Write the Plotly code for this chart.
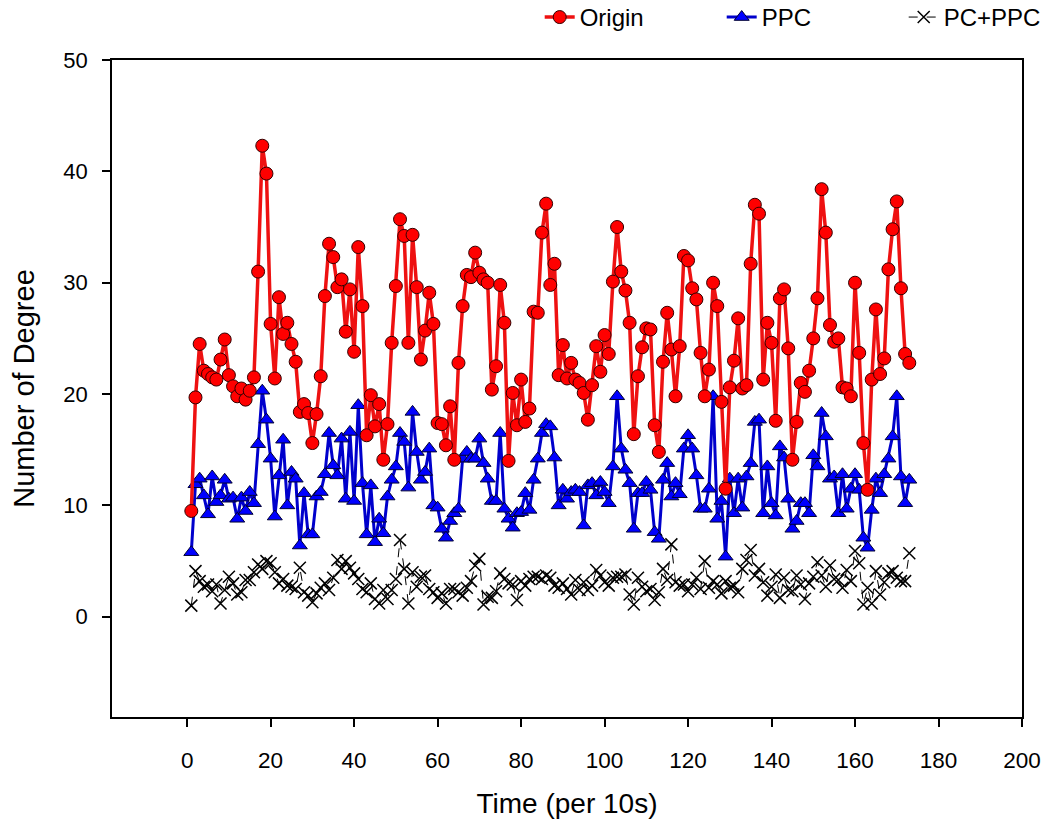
import plotly.graph_objects as go

origin = [
    9.5, 19.7, 24.5, 22.1, 21.8, 21.5, 21.3, 23.1, 24.9, 21.7,
    20.7, 19.8, 20.5, 19.5, 20.3, 21.5, 31.0, 42.3, 39.8, 26.3,
    21.4, 28.7, 25.4, 26.4, 24.5, 22.9, 18.4, 19.1, 18.3, 15.6,
    18.2, 21.6, 28.8, 33.5, 32.3, 29.6, 30.3, 25.6, 29.4, 23.8,
    33.2, 27.9, 16.3, 19.9, 17.1, 19.1, 14.1, 17.3, 24.6, 29.7,
    35.7, 34.2, 24.6, 34.3, 29.6, 23.1, 25.7, 29.1, 26.3, 17.4,
    17.3, 15.4, 18.9, 14.1, 22.8, 27.9, 30.7, 30.5, 32.7, 30.9,
    30.3, 30.0, 20.4, 22.5, 29.8, 26.4, 14.0, 20.1, 17.2, 21.3,
    17.5, 18.7, 27.4, 27.3, 34.5, 37.1, 29.8, 31.7, 21.7, 24.4,
    21.4, 22.8, 21.3, 21.0, 20.1, 17.7, 20.8, 24.3, 22.0, 25.3,
    23.6, 30.1, 35.0, 31.0, 29.3, 26.4, 16.4, 21.6, 24.2, 25.9,
    25.8, 17.2, 14.8, 22.9, 27.3, 24.0, 19.8, 24.3, 32.4, 32.0,
    29.5, 28.5, 23.7, 19.8, 22.2, 30.0, 27.9, 19.3, 11.5, 20.6,
    23.0, 26.8, 20.5, 20.8, 31.7, 37.0, 36.2, 21.3, 26.4, 24.6,
    17.6, 28.6, 29.4, 24.1, 14.1, 17.5, 21.0, 20.2, 22.1, 25.0,
    28.6, 38.4, 34.5, 26.2, 24.7, 25.0, 20.6, 20.5, 19.8, 30.0,
    23.7, 15.6, 11.4, 21.3, 27.6, 21.8, 23.2, 31.2, 34.8, 37.3,
    29.5, 23.6, 22.8,
]

ppc = [
    5.8, 11.9, 12.4, 10.9, 9.2, 12.6, 10.3, 10.9, 12.3, 10.6,
    10.7, 8.8, 10.7, 9.5, 11.2, 10.2, 15.5, 20.3, 17.7, 14.2,
    9.0, 12.7, 15.9, 10.0, 13.0, 12.4, 6.4, 11.1, 7.4, 7.4,
    10.8, 11.2, 12.8, 16.5, 13.6, 12.7, 16.0, 10.6, 16.6, 10.4,
    19.0, 12.0, 7.4, 11.8, 6.7, 8.8, 7.5, 10.8, 12.3, 13.5,
    16.5, 15.7, 11.6, 18.4, 14.8, 12.3, 13.0, 15.1, 10.0, 9.8,
    7.9, 7.1, 8.6, 9.3, 9.7, 14.2, 14.8, 14.2, 14.2, 16.0,
    13.8, 12.4, 10.4, 10.4, 16.5, 9.7, 8.8, 8.0, 9.3, 9.4,
    11.1, 9.6, 12.3, 14.2, 16.5, 17.3, 17.1, 14.3, 10.0, 11.4,
    10.6, 11.2, 11.4, 11.2, 8.2, 11.8, 12.0, 10.9, 12.1, 11.2,
    10.2, 13.5, 19.8, 15.1, 13.2, 12.0, 7.9, 11.1, 11.1, 12.1,
    11.4, 7.6, 7.0, 12.3, 13.8, 10.8, 12.0, 11.0, 15.1, 16.3,
    15.1, 12.7, 9.7, 9.7, 11.5, 19.8, 8.8, 10.4, 5.4, 12.4,
    9.3, 12.4, 9.8, 12.6, 13.8, 17.5, 17.7, 9.3, 13.5, 10.2,
    9.1, 15.3, 14.3, 10.6, 7.9, 8.6, 10.2, 10.2, 9.3, 14.5,
    13.5, 18.3, 16.2, 12.4, 12.6, 9.3, 12.8, 9.7, 11.5, 12.8,
    11.4, 7.1, 6.2, 9.6, 12.4, 11.1, 12.8, 14.2, 16.2, 19.8,
    12.6, 10.2, 12.3,
]

pc_ppc = [
    1.0, 4.1, 3.2, 2.7, 2.9, 2.3, 2.9, 1.2, 2.4, 3.6,
    3.0, 2.0, 2.2, 3.3, 3.3, 4.0, 4.7, 4.3, 5.0, 4.8,
    4.0, 3.0, 3.4, 2.8, 2.7, 2.5, 4.4, 2.2, 1.9, 1.3,
    2.1, 2.6, 3.0, 2.4, 3.5, 5.1, 4.3, 5.0, 4.4, 3.9,
    3.4, 2.5, 2.2, 3.0, 1.6, 1.2, 2.4, 1.6, 2.4, 3.4,
    6.9, 4.3, 1.2, 4.0, 2.7, 3.6, 3.7, 2.5, 2.2, 1.7,
    2.1, 1.2, 2.5, 2.5, 2.2, 1.9, 2.6, 3.2, 4.6, 5.2,
    1.1, 1.8, 1.7, 2.3, 3.9, 3.4, 3.0, 2.9, 1.5, 3.2,
    2.8, 3.4, 3.6, 3.6, 3.4, 3.7, 3.5, 2.8, 2.6, 3.0,
    2.5, 2.0, 3.3, 2.4, 3.1, 2.4, 2.8, 4.2, 3.7, 3.1,
    2.8, 3.5, 3.6, 3.6, 3.8, 2.0, 1.1, 3.5, 2.7, 2.3,
    2.5, 1.5, 2.2, 4.3, 3.3, 6.5, 3.1, 2.8, 2.9, 2.3,
    2.9, 3.5, 2.5, 5.0, 2.6, 3.2, 2.9, 2.1, 3.2, 2.6,
    2.8, 2.2, 4.3, 5.1, 6.0, 3.7, 4.3, 3.1, 1.9, 2.7,
    3.8, 1.7, 3.5, 2.4, 2.3, 3.7, 2.9, 1.6, 3.0, 3.6,
    4.9, 3.7, 2.7, 4.6, 3.4, 3.3, 2.6, 4.2, 3.2, 5.9,
    4.8, 1.1, 2.6, 1.2, 4.1, 2.0, 3.1, 3.9, 4.1, 3.5,
    3.2, 3.2, 5.7,
]

time = list(range(1, len(origin) + 1))

x_ticks = list(range(0, 201, 20))
y_ticks = list(range(0, 51, 10))

FONT = "Liberation Sans, Arial, sans-serif"

fig = go.Figure()

fig.add_trace(go.Scatter(
    x=time, y=pc_ppc, name="PC+PPC", mode="lines+markers",
    line=dict(color="black", width=1, dash="dash"),
    marker=dict(symbol="x-thin", size=12, color="black",
                line=dict(color="black", width=1.5)),
))
fig.add_trace(go.Scatter(
    x=time, y=ppc, name="PPC", mode="lines+markers",
    line=dict(color="#0000CC", width=3),
    marker=dict(symbol="triangle-up", size=13, color="#0000FF",
                line=dict(color="#000033", width=1)),
))
fig.add_trace(go.Scatter(
    x=time, y=origin, name="Origin", mode="lines+markers",
    line=dict(color="#EE1111", width=3.5),
    marker=dict(symbol="circle", size=13, color="#FF0000",
                line=dict(color="#330000", width=1)),
))

fig.update_layout(
    width=1048, height=829,
    paper_bgcolor="white", plot_bgcolor="white",
    margin=dict(l=112, r=26, t=60, b=112, autoexpand=False),
    font=dict(family=FONT, size=22, color="black"),
    showlegend=True,
    legend=dict(orientation="h", x=1.070, xanchor="right", y=1.099, yanchor="top",
                traceorder="reversed", font=dict(size=24), bgcolor="rgba(0,0,0,0)",
                entrywidth=137),
    xaxis=dict(
        range=[-18, 200], tickvals=x_ticks, showgrid=False, zeroline=False,
        showline=True, linecolor="black", linewidth=1.5, mirror=True,
        ticks="outside", ticklen=8, tickwidth=1.5, tickcolor="black",
        tickfont=dict(size=22.5), ticklabelstandoff=14, automargin=False,
        title=dict(text="Time (per 10s)", font=dict(size=28), standoff=22),
    ),
    yaxis=dict(
        range=[-9, 50], tickvals=y_ticks, showgrid=False, zeroline=False,
        showline=True, linecolor="black", linewidth=1.5, mirror=True,
        ticks="outside", ticklen=8, tickwidth=1.5, tickcolor="black",
        tickfont=dict(size=22), ticklabelstandoff=10, automargin=False,
        title=dict(text="Number of Degree", font=dict(size=29), standoff=20),
    ),
)

fig.write_html("out.html")
